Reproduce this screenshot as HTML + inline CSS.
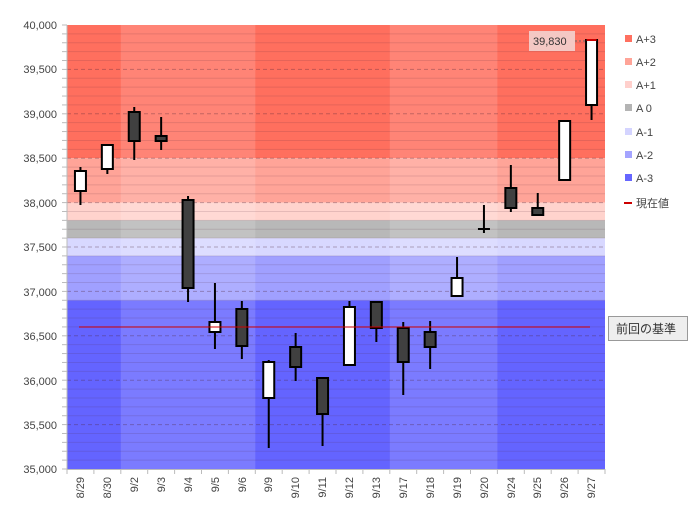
<!DOCTYPE html>
<html><head><meta charset="utf-8"><style>
body{margin:0;background:#fff;width:697px;height:521px;overflow:hidden;font-family:"Liberation Sans","Noto Sans CJK JP",sans-serif}
svg text{font-family:"Liberation Sans","Noto Sans CJK JP",sans-serif;font-size:11px;fill:#444}
</style></head><body>
<svg id="s" width="697" height="521" xmlns="http://www.w3.org/2000/svg">
<g id="bg"></g>
<g id="grid"></g>
<g id="cd"></g>
<line x1="79" y1="327" x2="590" y2="327" stroke="#d00000" stroke-width="1"/>
<line x1="67" y1="25" x2="67" y2="470" stroke="#bbb"/>
<line x1="67" y1="469.5" x2="605" y2="469.5" stroke="#bbb"/>
<g text-anchor="end">
<text x="57" y="29">40,000</text><text x="57" y="73">39,500</text><text x="57" y="118">39,000</text><text x="57" y="162">38,500</text><text x="57" y="207">38,000</text><text x="57" y="251">37,500</text><text x="57" y="296">37,000</text><text x="57" y="340">36,500</text><text x="57" y="385">36,000</text><text x="57" y="429">35,500</text><text x="57" y="473">35,000</text>
</g>
<rect x="529" y="31" width="46" height="20" fill="#f4c8c4"/>
<text x="533" y="45" style="font-size:11px;fill:#333">39,830</text>
<line x1="575" y1="41" x2="586" y2="41" stroke="#666" stroke-dasharray="2,2"/>
<g style="font-size:11px">
<rect x="625" y="35" width="7" height="7" fill="#ff7060"/><text x="636" y="43">A+3</text>
<rect x="625" y="58" width="7" height="7" fill="#ffa498"/><text x="636" y="66">A+2</text>
<rect x="625" y="81" width="7" height="7" fill="#ffd0cc"/><text x="636" y="89">A+1</text>
<rect x="625" y="104" width="7" height="7" fill="#b4b4b4"/><text x="636" y="112">A 0</text>
<rect x="625" y="128" width="7" height="7" fill="#d4d4ff"/><text x="636" y="136">A-1</text>
<rect x="625" y="151" width="7" height="7" fill="#a4a4ff"/><text x="636" y="159">A-2</text>
<rect x="625" y="174" width="7" height="7" fill="#6666ff"/><text x="636" y="182">A-3</text>
<line x1="624" y1="203" x2="632" y2="203" stroke="#c00" stroke-width="2"/><text x="636" y="207">現在値</text>
</g>
<rect x="608.5" y="316.5" width="79" height="24" fill="#eee" stroke="#999"/>
<text x="616" y="333" style="font-size:12px;fill:#333">前回の基準</text>
</svg>
<script>
const NS="http://www.w3.org/2000/svg";
function el(p,t,a){const e=document.createElementNS(NS,t);for(const k in a)e.setAttribute(k,a[k]);document.getElementById(p).appendChild(e);return e;}
const X0=67,X1=605,W=(X1-X0)/20;
const Y=p=>25+(40000-p)*0.0888;
const bands=[[40000,38500,"#ff6f5e"],[38500,38000,"#ffa498"],[38000,37800,"#ffd3cd"],[37800,37600,"#b8b8b8"],[37600,37400,"#d8d8ff"],[37400,36900,"#a0a0ff"],[36900,35000,"#6464ff"]];
bands.forEach(b=>el("bg","rect",{x:X0,y:Y(b[0]),width:X1-X0,height:Y(b[1])-Y(b[0]),fill:b[2]}));
[[2,7],[12,16]].forEach(r=>el("bg","rect",{x:X0+r[0]*W,y:25,width:(r[1]-r[0])*W,height:444.5,fill:"#fff","fill-opacity":0.15}));
for(let p=35100;p<40000;p+=100){const y=Y(p);if(p%500==0)el("grid","line",{x1:X0,x2:X1,y1:y,y2:y,stroke:"rgba(80,40,60,0.35)","stroke-dasharray":"4,3"});else el("grid","line",{x1:X0,x2:X1,y1:y,y2:y,stroke:"rgba(80,40,60,0.15)"});}
for(let p=35000;p<=40000;p+=100){const y=Y(p);el("grid","line",{x1:62,x2:67,y1:y,y2:y,stroke:"#bbb"});}
for(let i=0;i<=20;i++){const x=X0+i*W;el("grid","line",{x1:x,x2:x,y1:469,y2:474,stroke:"#bbb"});}
const c=[[171,191,167,205,0],[145,169,145,174,0],[112,141,107,160,1],[136,141,117,150,1],[200,288,196,302,1],[322,332,283,349,0],[309,346,301,359,1],[362,398,360,448,0],[347,367,333,381,1],[378,414,377,446,1],[307,365,301,365,0],[302,328,302,342,1],[328,362,322,395,1],[332,347,321,369,1],[278,296,257,296,0],[229,229,205,233,1],[188,208,165,212,1],[208,215,193,215,1],[121,180,121,181,0],[40,105,40,120,0]];
c.forEach((d,i)=>{const x=X0+(i+0.5)*W;
el("cd","line",{x1:x,x2:x,y1:d[2],y2:d[3],stroke:"#000","stroke-width":2});
if(d[0]==d[1])el("cd","line",{x1:x-6,x2:x+6,y1:d[0],y2:d[0],stroke:"#000","stroke-width":2});
else el("cd","rect",{x:x-5.5,y:d[0],width:11,height:d[1]-d[0],fill:d[4]?"#404040":"#fff",stroke:"#000","stroke-width":2});});
el("cd","line",{x1:X0+19.5*W-5,x2:X0+19.5*W+5,y1:40,y2:40,stroke:"#c00","stroke-width":2});
</script>
<svg style="position:absolute;left:0;top:0" width="697" height="521">
<g style="font-family:'Liberation Sans',sans-serif;font-size:11px;fill:#444" text-anchor="end">
<text transform="translate(84,477) rotate(-90)">8/29</text>
<text transform="translate(111,477) rotate(-90)">8/30</text>
<text transform="translate(138,477) rotate(-90)">9/2</text>
<text transform="translate(165,477) rotate(-90)">9/3</text>
<text transform="translate(192,477) rotate(-90)">9/4</text>
<text transform="translate(219,477) rotate(-90)">9/5</text>
<text transform="translate(246,477) rotate(-90)">9/6</text>
<text transform="translate(272,477) rotate(-90)">9/9</text>
<text transform="translate(299,477) rotate(-90)">9/10</text>
<text transform="translate(326,477) rotate(-90)">9/11</text>
<text transform="translate(353,477) rotate(-90)">9/12</text>
<text transform="translate(380,477) rotate(-90)">9/13</text>
<text transform="translate(407,477) rotate(-90)">9/17</text>
<text transform="translate(434,477) rotate(-90)">9/18</text>
<text transform="translate(461,477) rotate(-90)">9/19</text>
<text transform="translate(488,477) rotate(-90)">9/20</text>
<text transform="translate(515,477) rotate(-90)">9/24</text>
<text transform="translate(541,477) rotate(-90)">9/25</text>
<text transform="translate(568,477) rotate(-90)">9/26</text>
<text transform="translate(595,477) rotate(-90)">9/27</text>
</g></svg>
</body></html>
